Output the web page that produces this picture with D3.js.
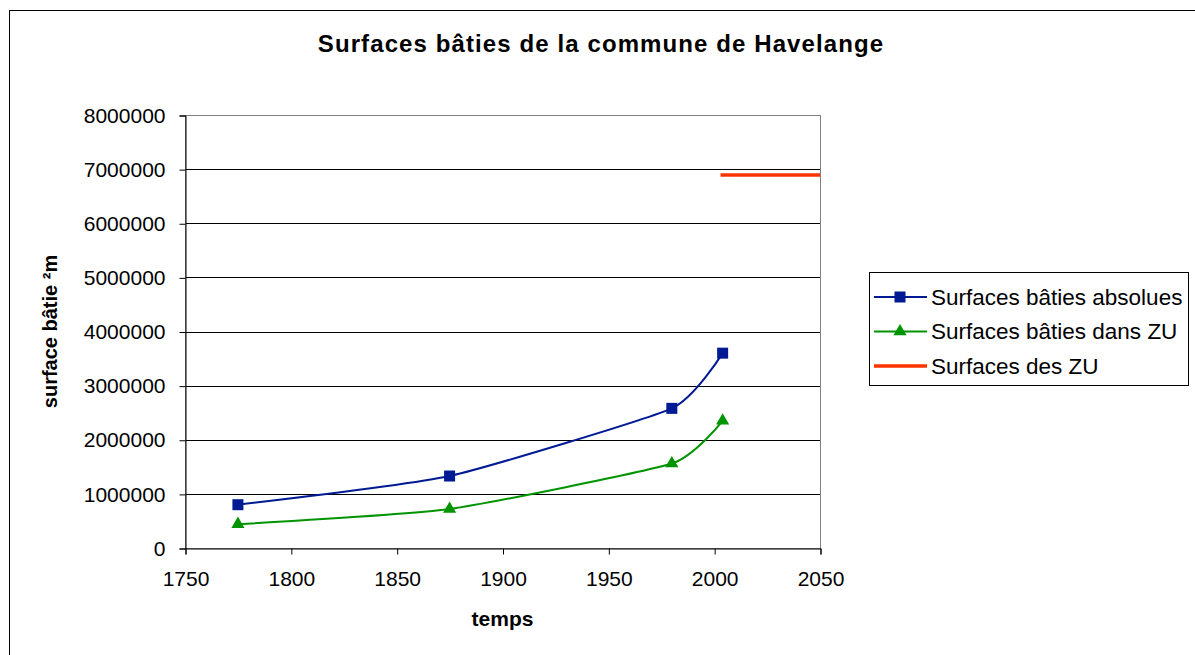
<!DOCTYPE html>
<html>
<head>
<meta charset="utf-8">
<script src="https://cdn.jsdelivr.net/npm/d3@7"></script>
<style>
  body { margin: 0; background: #fff; }
  text { font-family: "Liberation Sans", Arial, sans-serif; }
</style>
</head>
<body>
<div id="chart"></div>
<script>
// values
const years = [1775, 1875, 1980, 2004];
const absolues = [800000, 1330000, 2580000, 3600000];
const dansZU = [440000, 720000, 1560000, 2350000];
const zuYears = [2003, 2050];
const zuSurface = [6890000, 6890000];
const yTicks = [0, 1000000, 2000000, 3000000, 4000000, 5000000, 6000000, 7000000, 8000000];
const xTicks = [1750, 1800, 1850, 1900, 1950, 2000, 2050];
const seriesNames = ["Surfaces bâties absolues", "Surfaces bâties dans ZU", "Surfaces des ZU"];

const W = 1195, H = 655;
const margin = {top: 115, right: 375, bottom: 107, left: 185};

const svg = d3.select("#chart").append("svg")
  .attr("width", W).attr("height", H);

// outer frame
svg.append("rect")
  .attr("x", 9.5).attr("y", 10.5)
  .attr("width", W).attr("height", H)
  .attr("fill", "none").attr("stroke", "#000");

const x = d3.scaleLinear().domain([1750, 2050]).range([margin.left, W - margin.right]);
const y = d3.scaleLinear().domain([0, 8000000]).range([H - margin.bottom, margin.top]);

// grid
svg.append("g")
  .selectAll("line").data(yTicks.slice(1, -1))
  .enter().append("line")
    .attr("x1", x(1750)).attr("x2", x(2050))
    .attr("y1", d => Math.round(y(d)) + 0.5)
    .attr("y2", d => Math.round(y(d)) + 0.5)
    .attr("stroke", "#000").attr("stroke-width", 1);

// plot area border (gray)
svg.append("rect")
  .attr("x", x(1750) + 0.5).attr("y", Math.round(y(8000000)) + 0.5)
  .attr("width", x(2050) - x(1750))
  .attr("height", y(0) - y(8000000))
  .attr("fill", "none").attr("stroke", "#808080");

// axes
const yAxis = svg.append("g")
  .attr("transform", "translate(" + (x(1750) + 0.5) + ",0.5)")
  .call(d3.axisLeft(y).tickValues(yTicks).tickFormat(d3.format("d")).tickSize(6).tickPadding(14));
const xAxis = svg.append("g")
  .attr("transform", "translate(0.5," + (Math.round(y(0)) + 0.5) + ")")
  .call(d3.axisBottom(x).tickValues(xTicks).tickFormat(d3.format("d")).tickSize(6).tickPadding(17));

[yAxis, xAxis].forEach(a => {
  a.select(".domain").attr("stroke", "#000");
  a.selectAll(".tick line").attr("stroke", "#000");
  a.selectAll("text").attr("font-size", 21).attr("fill", "#000")
    .attr("font-family", "'Liberation Sans', Arial, sans-serif");
});

// lines (smoothed like the spreadsheet)
const line = d3.line()
  .x(d => x(d[0]))
  .y(d => y(d[1]))
  .curve(d3.curveCardinal.tension(0.5));

const blue = "#001a94", green = "#009400", red = "#ff3300";

svg.append("path")
  .datum(years.map((yr, i) => [yr, absolues[i]]))
  .attr("d", line).attr("fill", "none")
  .attr("stroke", blue).attr("stroke-width", 2);

svg.append("path")
  .datum(years.map((yr, i) => [yr, dansZU[i]]))
  .attr("d", line).attr("fill", "none")
  .attr("stroke", green).attr("stroke-width", 2);

svg.append("path")
  .datum(zuYears.map((yr, i) => [yr, zuSurface[i]]))
  .attr("d", d3.line().x(d => x(d[0])).y(d => y(d[1])))
  .attr("fill", "none").attr("stroke", red).attr("stroke-width", 3.5);

// markers
const square = d3.symbol().type(d3.symbolSquare).size(121);
const triangle = d3.symbol().type(d3.symbolTriangle).size(75);

svg.append("g").selectAll("path")
  .data(years.map((yr, i) => [yr, absolues[i]]))
  .enter().append("path")
    .attr("d", square)
    .attr("transform", d => "translate(" + x(d[0]) + "," + y(d[1]) + ")")
    .attr("fill", blue);

svg.append("g").selectAll("path")
  .data(years.map((yr, i) => [yr, dansZU[i]]))
  .enter().append("path")
    .attr("d", triangle)
    .attr("transform", d => "translate(" + x(d[0]) + "," + y(d[1]) + ")")
    .attr("fill", green);

// title
svg.append("text")
  .attr("x", 601).attr("y", 52)
  .attr("text-anchor", "middle")
  .attr("font-size", 24).attr("font-weight", "bold")
  .attr("letter-spacing", 1.1)
  .text("Surfaces bâties de la commune de Havelange");

// axis titles
svg.append("text")
  .attr("x", (x(1750) + x(2050)) / 2).attr("y", 626)
  .attr("text-anchor", "middle")
  .attr("font-size", 21).attr("font-weight", "bold")
  .text("temps");

svg.append("text")
  .attr("transform", "translate(57," + ((y(0) + y(8000000)) / 2) + ") rotate(-90)")
  .attr("text-anchor", "middle")
  .attr("font-size", 20).attr("font-weight", "bold")
  .text("surface bâtie ²m");

// legend
const legend = svg.append("g");
legend.append("rect")
  .attr("x", 869.5).attr("y", 272.5)
  .attr("width", 319).attr("height", 113)
  .attr("fill", "#fff").attr("stroke", "#000");

const legendColors = [blue, green, red];
const rows = legend.selectAll("g.row")
  .data(seriesNames)
  .enter().append("g")
    .attr("class", "row")
    .attr("transform", (d, i) => "translate(0," + (297 + i * 34.5) + ")");

rows.append("line")
  .attr("x1", 874).attr("x2", 927)
  .attr("y1", 0).attr("y2", 0)
  .attr("stroke", (d, i) => legendColors[i])
  .attr("stroke-width", (d, i) => i === 2 ? 3.5 : 2);

rows.filter((d, i) => i === 0).append("path")
  .attr("d", square).attr("transform", "translate(900,0)").attr("fill", blue);
rows.filter((d, i) => i === 1).append("path")
  .attr("d", triangle).attr("transform", "translate(900,0)").attr("fill", green);

rows.append("text")
  .attr("x", 931).attr("y", 0).attr("dy", "0.35em")
  .attr("font-size", 22.5)
  .text(d => d);
</script>
</body>
</html>
